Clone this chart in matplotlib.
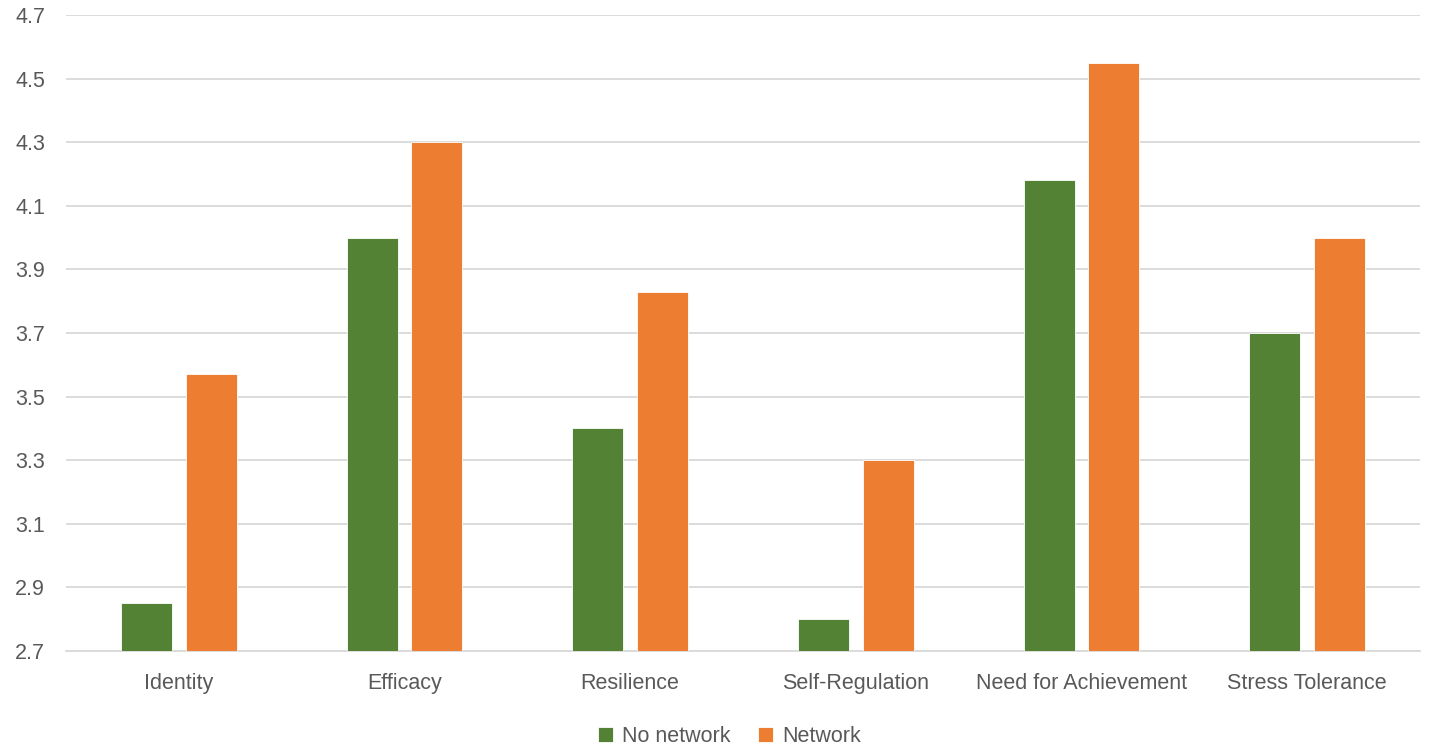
import numpy as np
import matplotlib.pyplot as plt

categories = ['Identity', 'Efficacy', 'Resilience', 'Self-Regulation',
              'Need for Achievement', 'Stress Tolerance']
no_network = [2.85, 4.00, 3.40, 2.80, 4.18, 3.70]
network = [3.57, 4.30, 3.83, 3.30, 4.55, 4.00]
yticks = [2.7, 2.9, 3.1, 3.3, 3.5, 3.7, 3.9, 4.1, 4.3, 4.5, 4.7]

green = '#548235'
orange = '#ED7D31'
txt = '#595959'

plt.rcParams['font.family'] = ['Liberation Sans', 'DejaVu Sans']

fig = plt.figure(figsize=(14.29, 7.46), dpi=100)
ax = fig.add_axes([66/1429, 95/746, 1354/1429, 636/746])

x = np.arange(len(categories))
w = 0.226
off = 0.1435
ax.bar(x - off, no_network, w, color=green, edgecolor='white',
       linewidth=0.6, label='No network', zorder=3)
ax.bar(x + off, network, w, color=orange, edgecolor='white',
       linewidth=0.6, label='Network', zorder=3)

ax.set_xlim(-0.5, len(categories) - 0.5)
ax.set_ylim(2.7, 4.7)
ax.set_yticks(yticks)
ax.set_yticklabels(['%.1f' % v for v in yticks])
ax.set_xticks(x)
ax.set_xticklabels(categories)
ax.yaxis.grid(True, color='#D9D9D9', linewidth=1.3, zorder=0)
ax.set_axisbelow(True)
for s in ['top', 'right', 'left']:
    ax.spines[s].set_visible(False)
ax.spines['bottom'].set_color('#D9D9D9')
ax.spines['bottom'].set_linewidth(1.3)
ax.tick_params(axis='both', length=0, labelsize=15.5, colors=txt)
ax.tick_params(axis='x', pad=16)
ax.tick_params(axis='y', pad=15)

leg = ax.legend(loc='upper center', bbox_to_anchor=(0.49, -0.088), ncol=2,
                frameon=False, fontsize=15.5, handlelength=0.7, handleheight=0.7,
                handletextpad=0.4, columnspacing=1.3)
for t in leg.get_texts():
    t.set_color(txt)

fig.savefig('out.png', dpi=100)
